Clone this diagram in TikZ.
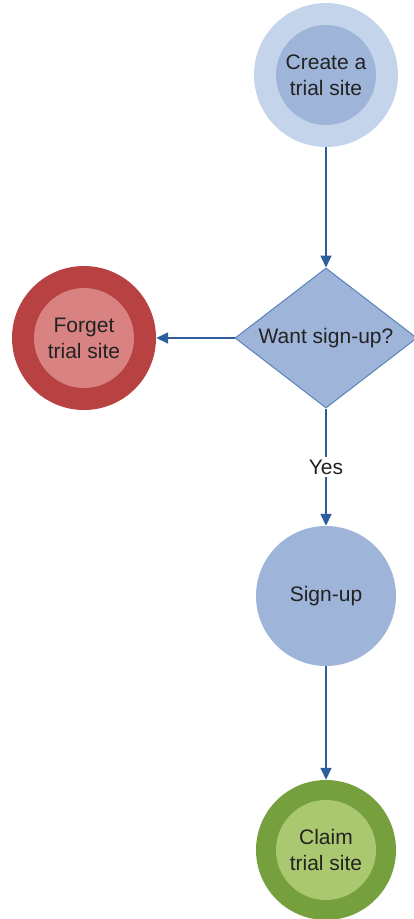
\documentclass[tikz,border=0pt]{standalone}
\usepackage{fontspec}
\setmainfont{Liberation Sans}
\usetikzlibrary{arrows.meta,shapes.geometric}
\definecolor{bluelt}{HTML}{C4D4EA}
\definecolor{bluemd}{HTML}{9EB5D9}
\definecolor{blueedge}{HTML}{5A82B8}
\definecolor{arrowc}{HTML}{2E5E9C}
\definecolor{redout}{HTML}{B84242}
\definecolor{redin}{HTML}{D98282}
\definecolor{greenout}{HTML}{76A03E}
\definecolor{greenin}{HTML}{A9C86F}
\definecolor{txt}{HTML}{222222}
\tikzset{
  lbl/.style={text=txt,font=\fontsize{21}{26}\selectfont,align=center},
  outer/.style={circle,minimum size=144pt,inner sep=0pt},
  innerc/.style={circle,minimum size=100pt,inner sep=0pt,lbl},
  conn/.style={arrowc,line width=1.6pt,-{Triangle[length=12pt,width=11pt]}}
}
\begin{document}
\begin{tikzpicture}[x=1pt,y=-1pt]
\useasboundingbox (0,0) rectangle (414,919);
% Create
\node[outer,fill=bluelt] (create) at (326,75) {};
\node[innerc,fill=bluemd] (createin) at (326,75) {Create a\\trial site};
% Decision
\node[diamond,aspect=1.3,minimum width=182pt,minimum height=140pt,inner sep=0pt,fill=bluemd,draw=blueedge,line width=1pt,lbl] (dec) at (326,338) {Want sign-up?};
% Forget
\node[outer,fill=redout] (forget) at (84,338) {};
\node[innerc,fill=redin] (forgetin) at (84,338) {Forget\\trial site};
% Sign-up
\node[circle,minimum size=140pt,inner sep=0pt,fill=bluemd,lbl] (signup) at (326,596) {Sign-up};
% Claim
\node[outer,minimum size=140pt,fill=greenout] (claim) at (326,850) {};
\node[innerc,fill=greenin] (claimin) at (326,850) {Claim\\trial site};
% Connectors
\draw[conn] (create.south) -- (dec.north);
\draw[conn] (dec.west) -- (forget.east);
\draw[conn] (dec.south) -- node[lbl,fill=white,inner sep=3pt] {Yes} (signup.north);
\draw[conn] (signup.south) -- (claim.north);
\end{tikzpicture}
\end{document}
